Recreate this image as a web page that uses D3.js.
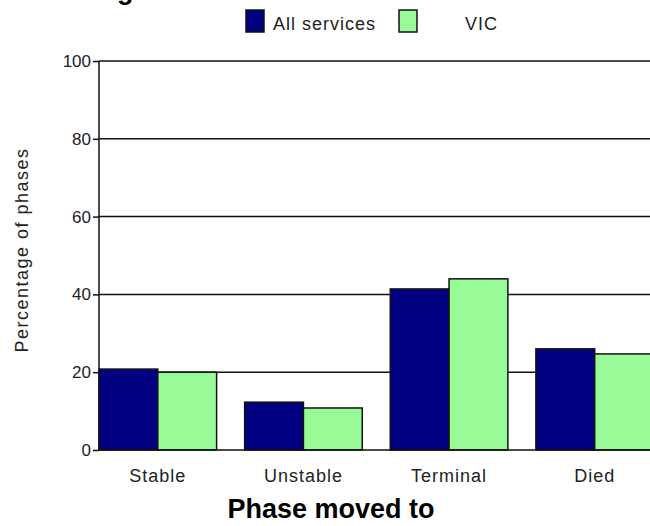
<!DOCTYPE html>
<head>
  <meta charset="utf-8">
  <script src="https://d3js.org/d3.v7.min.js"></script>
  <style>
    body { margin: 0; background: #fff; }
    svg { display: block; font-family: "Liberation Sans", Arial, sans-serif; }
    .tick-label { font-size: 17px; fill: #222; }
    .cat-label { font-size: 18px; fill: #222; letter-spacing: 1px; }
    .legend-label { font-size: 18px; fill: #222; letter-spacing: 1px; }
    .y-title { font-size: 18px; fill: #222; letter-spacing: 1.5px; }
    .x-title { font-size: 27px; font-weight: bold; fill: #000; }
  </style>
</head>
<body>
<script>
  // data
  var categories = ["Stable", "Unstable", "Terminal", "Died"];
  var seriesNames = ["All services", "VIC"];
  var allServices = [20.8, 12.3, 41.4, 26.0];
  var vic = [20.0, 10.8, 44.0, 24.7];
  var yTicks = [0, 20, 40, 60, 80, 100];
  var colors = ["#000080", "#98fb98"];

  var width = 650, height = 526;
  var plotLeft = 99, plotTop = 61, plotBottom = 450;

  var svg = d3.select("body").append("svg")
      .attr("width", width)
      .attr("height", height);

  var y = d3.scaleLinear()
      .domain([0, 100])
      .range([plotBottom, plotTop]);

  var x0 = d3.scaleBand()
      .domain(categories)
      .range([plotLeft, 653.5])
      .paddingInner(0.1924)
      .paddingOuter(0);

  var x1 = d3.scaleBand()
      .domain(seriesNames)
      .range([0, x0.bandwidth()]);

  // gridlines
  svg.append("g")
    .selectAll("line")
    .data(yTicks.filter(function(d) { return d > 0; }))
    .enter().append("line")
      .attr("x1", plotLeft)
      .attr("x2", width)
      .attr("y1", function(d) { return y(d); })
      .attr("y2", function(d) { return y(d); })
      .attr("stroke", "#111")
      .attr("stroke-width", 1.5);

  // y axis
  var yAxis = d3.axisLeft(y)
      .tickValues(yTicks)
      .tickSize(6)
      .tickPadding(2);

  var gy = svg.append("g")
      .attr("transform", "translate(" + plotLeft + ",0)")
      .call(yAxis);
  gy.select(".domain").remove();
  gy.selectAll(".tick line").attr("stroke", "#111").attr("stroke-width", 1.5);
  gy.selectAll(".tick text")
      .attr("class", "tick-label")
      .attr("font-size", null)
      .attr("font-family", null)
      .attr("fill", null);

  svg.append("line")
      .attr("x1", plotLeft).attr("x2", plotLeft)
      .attr("y1", plotTop).attr("y2", plotBottom)
      .attr("stroke", "#111")
      .attr("stroke-width", 1.5);

  // bars
  var rows = categories.map(function(c, i) {
    return { cat: c, values: [allServices[i], vic[i]] };
  });

  svg.append("g")
    .selectAll("g")
    .data(rows)
    .enter().append("g")
      .attr("transform", function(d) { return "translate(" + x0(d.cat) + ",0)"; })
    .selectAll("rect")
    .data(function(d) { return d.values.map(function(v, j) { return { name: seriesNames[j], value: v, j: j }; }); })
    .enter().append("rect")
      .attr("x", function(d) { return x1(d.name); })
      .attr("width", x1.bandwidth())
      .attr("y", function(d) { return y(d.value); })
      .attr("height", function(d) { return y(0) - y(d.value); })
      .attr("fill", function(d) { return colors[d.j]; })
      .attr("stroke", "#111")
      .attr("stroke-width", 1.5);

  // baseline
  svg.append("line")
      .attr("x1", plotLeft).attr("x2", width)
      .attr("y1", plotBottom).attr("y2", plotBottom)
      .attr("stroke", "#111")
      .attr("stroke-width", 1.5);

  // category labels
  svg.append("g")
    .selectAll("text")
    .data(categories)
    .enter().append("text")
      .attr("class", "cat-label")
      .attr("x", function(d) { return x0(d) + x0.bandwidth() / 2; })
      .attr("y", 482)
      .attr("text-anchor", "middle")
      .text(function(d) { return d; });

  // axis titles
  svg.append("text")
      .attr("class", "x-title")
      .attr("x", 331)
      .attr("y", 518)
      .attr("text-anchor", "middle")
      .text("Phase moved to");

  svg.append("text")
      .attr("class", "y-title")
      .attr("transform", "translate(28,250) rotate(-90)")
      .attr("text-anchor", "middle")
      .text("Percentage of phases");

  // the title is cut off above, only the tail of a "g" shows
  svg.append("text")
      .attr("x", 117)
      .attr("y", -1)
      .attr("font-size", 27)
      .attr("font-weight", "bold")
      .text("g");

  // legend
  var legendX = [246, 399];
  var legendTextX = [273, 465];
  var legend = svg.append("g")
    .selectAll("g")
    .data(seriesNames)
    .enter().append("g");

  legend.append("rect")
      .attr("x", function(d, i) { return legendX[i]; })
      .attr("y", 10)
      .attr("width", 18)
      .attr("height", 22)
      .attr("fill", function(d, i) { return colors[i]; })
      .attr("stroke", "#111")
      .attr("stroke-width", 1.5);

  legend.append("text")
      .attr("class", "legend-label")
      .attr("x", function(d, i) { return legendTextX[i]; })
      .attr("y", 30)
      .text(function(d) { return d; });
</script>
</body>
